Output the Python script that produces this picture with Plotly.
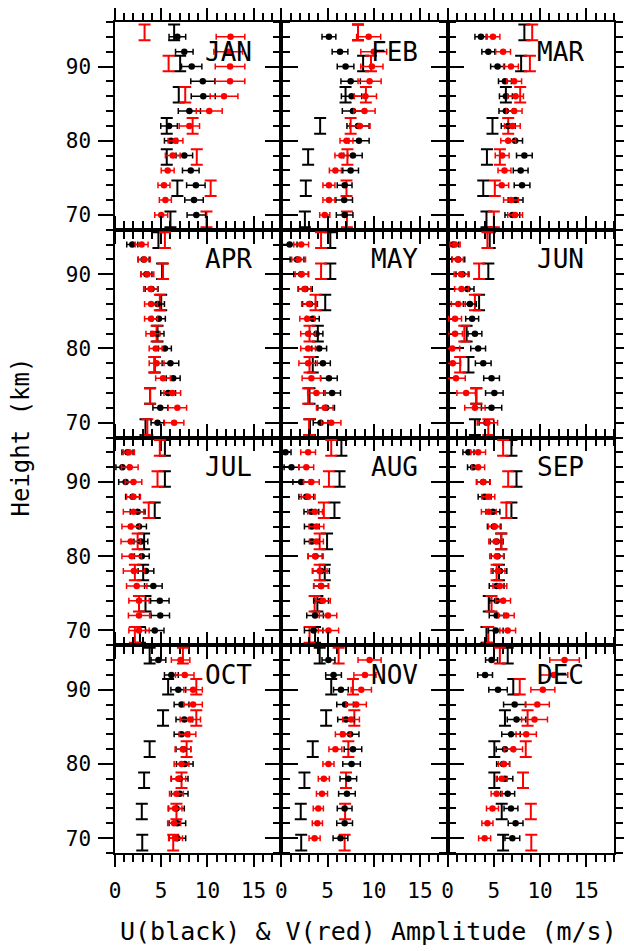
import plotly.graph_objects as go

MONTHS = ["JAN", "FEB", "MAR", "APR", "MAY", "JUN", "JUL", "AUG", "SEP", "OCT", "NOV", "DEC"]
HEIGHTS = [94, 92, 90, 88, 86, 84, 82, 80, 78, 76, 74, 72, 70]
I_HEIGHTS = [94.6, 90.4, 86.2, 82.0, 77.8, 73.6, 69.4]
I_HALF = 1.05

U_AMP = [
    [6.75, 7.5, 8.3, 9.5, 9.55, 8.05, 5.85, 6.05, 7.5, 8.2, 8.75, 8.55, 8.8],
    [5.15, 6.35, 6.95, 7.5, 7.6, 7.75, 8.3, 8.4, 7.75, 7.5, 6.85, 6.8, 6.85],
    [3.6, 4.4, 5.4, 6.2, 6.3, 6.3, 6.55, 7.3, 8.3, 7.9, 8.05, 7.35, 7.0],
    [1.87, 3.1, 3.4, 3.96, 4.6, 4.75, 4.6, 5.4, 6.0, 6.3, 5.75, 4.9, 4.6],
    [0.9, 1.7, 2.15, 2.6, 3.1, 3.4, 3.8, 4.1, 4.5, 5.15, 5.5, 4.85, 4.25],
    [0.6, 1.15, 1.6, 2.15, 2.4, 2.65, 2.95, 3.3, 3.85, 4.75, 5.05, 4.75, 4.2],
    [1.35, 0.8, 1.15, 1.9, 2.45, 2.6, 2.8, 2.9, 3.35, 4.15, 4.85, 4.9, 4.3],
    [0.45, 1.1, 2.15, 2.7, 3.25, 3.3, 3.3, 3.7, 4.3, 4.3, 4.3, 3.65, 3.5],
    [2.25, 2.75, 3.85, 4.0, 4.9, 5.0, 5.3, 5.4, 5.65, 5.3, 5.3, 5.3, 5.2],
    [4.7, 6.1, 6.85, 7.2, 7.5, 7.2, 7.4, 7.55, 7.0, 7.0, 6.65, 6.75, 6.75],
    [5.1, 5.65, 6.45, 6.9, 7.0, 7.45, 7.75, 7.6, 7.25, 7.1, 6.85, 6.85, 6.4],
    [4.75, 4.05, 5.45, 7.25, 7.45, 6.85, 6.2, 6.0, 6.2, 6.5, 6.85, 7.35, 7.0],
]
U_ERR = [
    [0.9, 0.95, 1.1, 1.3, 1.3, 1.2, 0.9, 0.7, 0.9, 0.9, 1.0, 1.0, 1.0],
    [0.75, 0.85, 0.9, 1.05, 1.1, 1.15, 1.2, 1.1, 1.0, 0.85, 0.8, 0.9, 0.9],
    [0.65, 0.7, 0.75, 0.7, 0.7, 0.75, 0.75, 0.8, 0.85, 0.8, 0.85, 0.8, 0.8],
    [0.6, 0.6, 0.6, 0.7, 0.75, 0.7, 0.7, 0.7, 0.9, 0.75, 0.8, 0.8, 0.7],
    [0.8, 0.75, 0.8, 0.75, 0.8, 0.7, 0.7, 0.8, 0.8, 0.9, 0.9, 0.9, 0.8],
    [0.6, 0.7, 0.7, 0.7, 0.7, 0.7, 0.75, 0.8, 0.85, 0.85, 0.95, 1.1, 0.8],
    [0.6, 0.7, 0.75, 0.75, 0.8, 0.8, 0.75, 0.8, 0.85, 0.95, 1.0, 1.0, 1.0],
    [0.6, 0.8, 0.9, 0.8, 0.8, 0.8, 0.8, 0.8, 0.9, 0.8, 0.8, 0.9, 1.0],
    [0.6, 0.6, 0.7, 0.7, 0.75, 0.7, 0.7, 0.7, 0.75, 0.8, 0.75, 0.8, 0.8],
    [0.8, 0.75, 0.8, 0.8, 0.9, 0.8, 0.8, 0.9, 0.9, 0.9, 0.85, 0.9, 0.9],
    [0.7, 0.85, 0.8, 0.9, 0.9, 0.95, 0.95, 0.95, 0.9, 0.9, 0.8, 0.85, 0.8],
    [0.65, 0.8, 1.0, 1.2, 1.0, 1.0, 0.95, 0.7, 0.85, 0.75, 0.75, 0.8, 0.8],
]
V_AMP = [
    [12.5, 12.25, 12.45, 12.45, 11.8, 10.2, 8.05, 6.55, 6.25, 5.7, 5.3, 5.45, 5.0],
    [9.45, 10.0, 9.8, 9.55, 9.1, 9.0, 8.5, 7.05, 6.5, 5.85, 5.15, 5.15, 4.7],
    [4.9, 6.0, 6.85, 7.2, 7.35, 7.2, 7.0, 6.55, 5.9, 6.15, 5.85, 6.85, 7.3],
    [2.88, 3.17, 3.5, 3.85, 3.9, 3.9, 4.1, 4.4, 4.5, 5.2, 6.2, 6.75, 6.4],
    [2.15, 1.87, 2.2, 2.5, 3.0, 2.8, 2.9, 2.9, 2.9, 3.25, 3.8, 4.7, 5.4],
    [0.8, 1.1, 1.45, 1.5, 1.15, 0.8, 0.8, 0.5, 0.55, 0.9, 2.0, 2.95, 4.3],
    [1.5, 1.6, 2.0, 2.0, 2.0, 1.7, 1.7, 1.8, 2.05, 2.35, 2.6, 2.6, 2.6],
    [2.9, 2.7, 3.25, 2.9, 3.65, 3.8, 3.8, 3.65, 4.15, 4.3, 4.5, 5.05, 5.1],
    [3.3, 3.3, 3.85, 4.4, 4.45, 5.1, 5.2, 5.3, 5.45, 5.65, 6.0, 6.35, 6.5],
    [7.1, 7.55, 8.45, 8.45, 8.15, 7.85, 7.35, 7.2, 6.85, 6.65, 6.5, 6.4, 6.55],
    [9.55, 9.05, 8.65, 8.1, 7.55, 6.65, 5.85, 5.1, 4.6, 4.4, 4.0, 3.9, 3.6],
    [12.65, 11.5, 10.3, 9.7, 9.4, 8.5, 7.1, 6.1, 5.85, 5.3, 4.85, 4.3, 4.0],
]
V_ERR = [
    [1.55, 1.55, 1.6, 1.6, 1.5, 1.4, 1.1, 0.8, 0.8, 0.7, 0.65, 0.65, 0.7],
    [1.3, 1.4, 1.2, 1.25, 1.2, 1.15, 1.1, 0.7, 0.7, 0.65, 0.65, 0.65, 0.55],
    [0.75, 0.8, 0.8, 0.8, 0.85, 0.85, 0.85, 0.8, 0.75, 0.7, 0.75, 0.8, 0.8],
    [0.7, 0.65, 0.7, 0.75, 0.7, 0.7, 0.75, 0.7, 0.8, 0.8, 0.9, 1.0, 1.05],
    [0.8, 0.75, 0.7, 0.7, 0.8, 0.8, 0.8, 0.8, 1.0, 1.0, 0.95, 0.9, 1.05],
    [0.55, 0.6, 0.75, 0.75, 0.75, 0.7, 0.8, 0.8, 0.85, 1.0, 1.0, 1.1, 1.1],
    [0.6, 0.9, 0.9, 0.75, 1.1, 0.95, 1.05, 1.05, 1.15, 1.1, 1.1, 1.15, 1.1],
    [0.8, 0.8, 0.85, 0.75, 0.8, 0.8, 0.75, 0.75, 0.8, 0.8, 0.8, 0.95, 1.1],
    [0.8, 0.7, 0.75, 0.7, 0.8, 0.7, 0.75, 0.75, 0.75, 0.75, 0.8, 0.85, 0.85],
    [1.0, 1.0, 1.0, 1.0, 1.1, 0.9, 0.85, 0.8, 0.8, 0.75, 0.75, 0.7, 0.75],
    [1.25, 1.2, 1.1, 1.1, 0.9, 0.8, 0.7, 0.6, 0.6, 0.6, 0.55, 0.55, 0.6],
    [1.6, 1.5, 1.3, 1.3, 1.4, 1.1, 1.0, 0.6, 0.6, 0.6, 0.65, 0.6, 0.65],
]
I_U = [
    [6.4, 7.05, 6.9, 5.6, 5.6, 6.75, 6.0],
    [8.3, 8.85, 6.95, 4.2, 2.9, 2.65, 2.55],
    [8.3, 7.95, 6.3, 4.85, 4.25, 3.85, 4.2],
    [4.7, 5.1, 5.0, 4.6, 4.3, 3.8, 3.3],
    [5.3, 5.3, 4.75, 3.95, 3.4, 3.05, 3.1],
    [4.55, 4.4, 3.4, 2.05, 2.25, 3.1, 2.95],
    [5.4, 5.4, 4.3, 3.15, 3.05, 3.3, 2.7],
    [6.5, 6.3, 5.75, 4.95, 4.7, 3.9, 3.65],
    [6.9, 7.45, 6.9, 5.8, 5.55, 4.45, 4.2],
    [3.75, 5.75, 5.2, 3.75, 3.15, 2.9, 2.95],
    [4.15, 5.4, 4.85, 3.4, 2.5, 2.1, 2.15],
    [6.5, 7.1, 6.2, 5.05, 5.05, 5.85, 6.0],
]
I_V = [
    [3.2, 5.8, 7.6, 8.4, 8.85, 10.35, 9.9],
    [8.3, 9.7, 9.15, 7.5, 7.15, 7.05, 7.1],
    [9.15, 8.9, 7.85, 6.55, 5.65, 5.1, 5.0],
    [5.4, 5.2, 4.85, 4.5, 4.25, 3.8, 3.5],
    [4.3, 4.3, 3.7, 3.05, 3.05, 2.9, 3.0],
    [4.3, 3.4, 2.95, 1.8, 1.35, 3.1, 4.4],
    [4.85, 4.6, 3.65, 2.45, 2.15, 2.6, 2.15],
    [5.4, 5.15, 4.6, 4.15, 4.15, 3.6, 3.05],
    [6.0, 6.55, 6.35, 5.8, 5.3, 4.75, 4.4],
    [7.35, 8.8, 8.8, 7.75, 7.2, 6.65, 6.3],
    [6.2, 7.75, 7.9, 7.25, 7.0, 6.9, 6.85],
    [5.65, 7.8, 8.65, 8.45, 8.15, 9.0, 9.05],
]

FONT = "DejaVu Sans Mono"
BLACK = "#000000"
RED = "#ff0000"
FIG_W, FIG_H = 624, 951

fig = go.Figure()
ncols, nrows = 3, 4

for k, month in enumerate(MONTHS):
    r, c = divmod(k, ncols)
    idx = k + 1
    xa = "x" if idx == 1 else f"x{idx}"
    ya = "y" if idx == 1 else f"y{idx}"

    for xs, col in ((I_U[k], BLACK), (I_V[k], RED)):
        fig.add_trace(go.Scatter(
            x=xs, y=I_HEIGHTS, xaxis=xa, yaxis=ya, mode="markers",
            marker=dict(size=2, color="rgba(0,0,0,0)"),
            error_y=dict(type="constant", value=I_HALF, width=6, thickness=2, color=col),
            showlegend=False, hoverinfo="skip"))

    for xs, es, col in ((U_AMP[k], U_ERR[k], BLACK), (V_AMP[k], V_ERR[k], RED)):
        fig.add_trace(go.Scatter(
            x=xs, y=HEIGHTS, xaxis=xa, yaxis=ya, mode="markers",
            marker=dict(size=6.5, color=col),
            error_x=dict(type="data", array=es, width=3, thickness=1.5, color=col),
            showlegend=False))

    x0, x1 = c / ncols, (c + 1) / ncols
    y1, y0 = 1 - r / nrows, 1 - (r + 1) / nrows
    axcommon = dict(showline=True, linecolor="black", linewidth=1.5, mirror="allticks",
                    ticks="outside", tickwidth=1.5, tickcolor="black", showgrid=False,
                    zeroline=False, automargin=False,
                    tickfont=dict(family=FONT, size=21, color="black"))
    fig.layout[("xaxis" if idx == 1 else f"xaxis{idx}")] = dict(
        domain=[x0, x1], anchor=ya, range=[0, 18], tickmode="linear", tick0=0, dtick=5,
        ticklen=12, minor=dict(dtick=1, ticklen=7, tickwidth=1.5, ticks="outside", tickcolor="black"),
        showticklabels=(r == nrows - 1), ticklabelstandoff=6, **axcommon)
    fig.layout[("yaxis" if idx == 1 else f"yaxis{idx}")] = dict(
        domain=[y0, y1], anchor=xa, range=[68, 96], tickmode="linear", tick0=0, dtick=10,
        ticklen=15, minor=dict(dtick=2, ticklen=7, tickwidth=1.5, ticks="outside", tickcolor="black"),
        showticklabels=(c == 0), ticklabelstandoff=3, **axcommon)

    fig.add_annotation(x=15, y=92.0, xref=xa, yref=ya, text=month, showarrow=False,
                       xanchor="right", yanchor="middle",
                       font=dict(family=FONT, size=26, color="black"))

fig.add_annotation(x=0.509, y=0, xref="paper", yref="paper", yshift=-78,
                   text="U(black) & V(red) Amplitude (m/s)", showarrow=False,
                   xanchor="center", yanchor="middle",
                   font=dict(family=FONT, size=25, color="black"))
fig.add_annotation(x=0, y=0.5, xref="paper", yref="paper", xshift=-95,
                   text="Height (km)", showarrow=False, textangle=-90,
                   xanchor="center", yanchor="middle",
                   font=dict(family=FONT, size=24, color="black"))

fig.update_layout(width=FIG_W, height=FIG_H, autosize=False,
                  margin=dict(l=115, r=10, t=22, b=98, autoexpand=False),
                  paper_bgcolor="white", plot_bgcolor="white")

POST = "document.body.style.margin='0';document.body.style.overflow='hidden';"
fig.write_html("out.html", config={"responsive": False, "displayModeBar": False},
               post_script=POST)
